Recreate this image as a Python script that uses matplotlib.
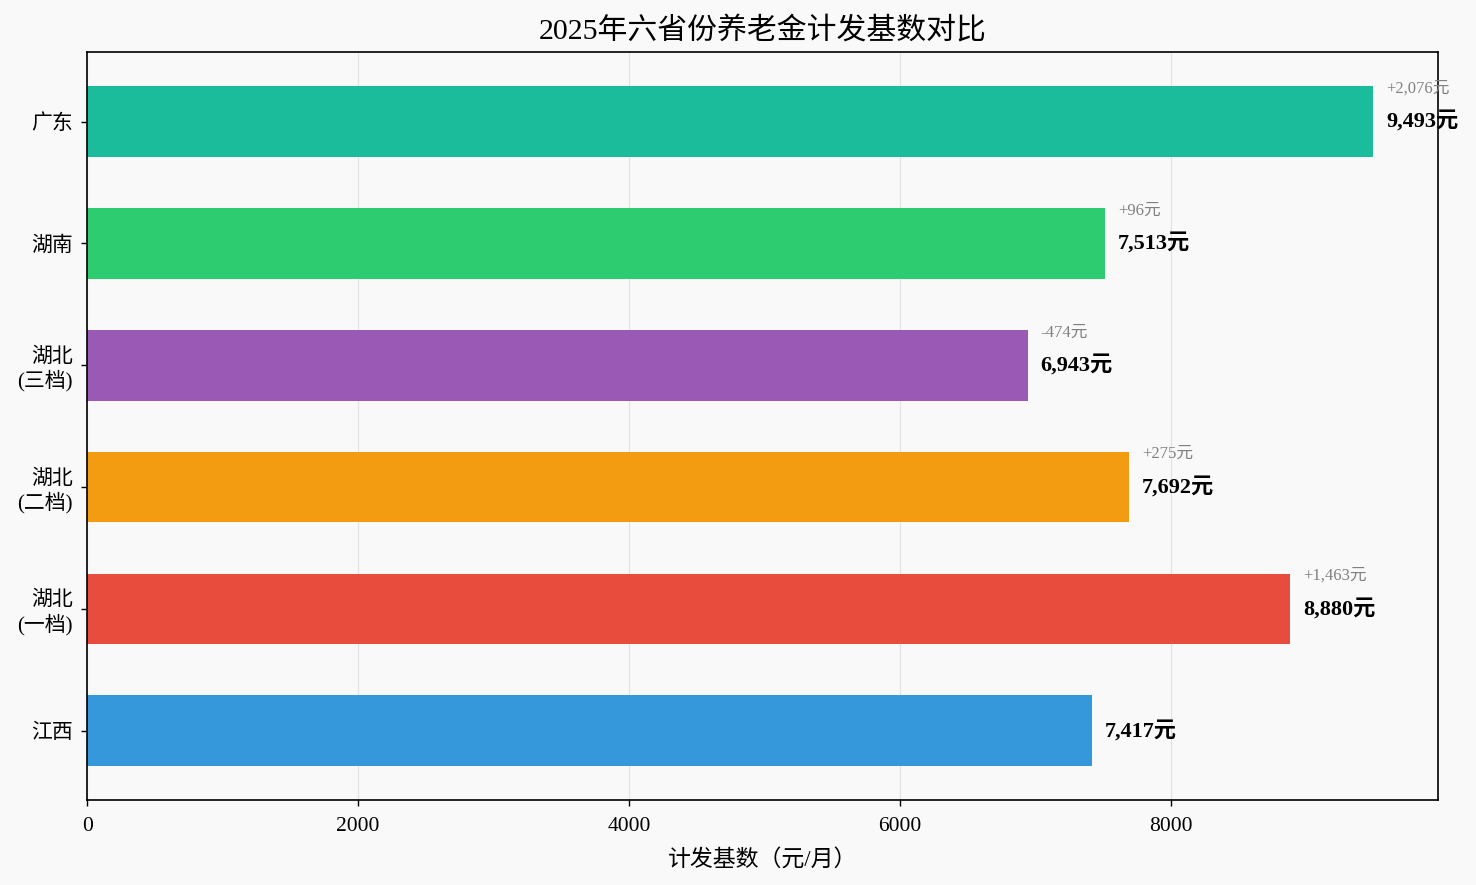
import matplotlib
matplotlib.use('Agg')
import matplotlib.pyplot as plt

plt.rcParams['font.family'] = ['Liberation Serif', 'Noto Sans CJK SC']
plt.rcParams['axes.unicode_minus'] = False

# data, bottom to top
provinces = ['江西', '湖北\n(一档)', '湖北\n(二档)', '湖北\n(三档)', '湖南', '广东']
base_values = [7417, 8880, 7692, 6943, 7513, 9493]
colors = ['#3498db', '#e74c3c', '#f39c12', '#9b59b6', '#2ecc71', '#1abc9c']
ref_value = base_values[0]  # 江西 as reference

fig, ax = plt.subplots(figsize=(14.76, 8.85), dpi=100)
fig.patch.set_facecolor('#f9f9f9')
ax.set_facecolor('#f9f9f9')

y = range(len(provinces))
ax.barh(y, base_values, height=0.58, color=colors, zorder=2)

for i, v in enumerate(base_values):
    ax.text(v + 95, i, f'{v:,}元', va='center', ha='left',
            fontsize=16, fontweight='bold', zorder=3)
    if i > 0:
        d = v - ref_value
        ax.text(v + 95, i + 0.27, f'{d:+,}元', va='center', ha='left',
                fontsize=12, color='gray', zorder=3)

ax.set_yticks(list(y))
ax.set_yticklabels(provinces, fontsize=15)
ax.tick_params(axis='x', labelsize=15.5, pad=8)
ax.tick_params(axis='y', pad=6)
ax.tick_params(length=4.5, width=1.0)
ax.set_xlim(0, max(base_values) * 1.05)
ax.set_xlabel('计发基数（元/月）', fontsize=16.5, labelpad=9)
ax.set_title('2025年六省份养老金计发基数对比', fontsize=21.5, pad=9)
ax.grid(axis='x', alpha=0.3, zorder=0)
for s in ax.spines.values():
    s.set_linewidth(1.2)

fig.subplots_adjust(left=0.059, right=0.974, top=0.941, bottom=0.096)
plt.savefig('out.png', facecolor=fig.get_facecolor())
